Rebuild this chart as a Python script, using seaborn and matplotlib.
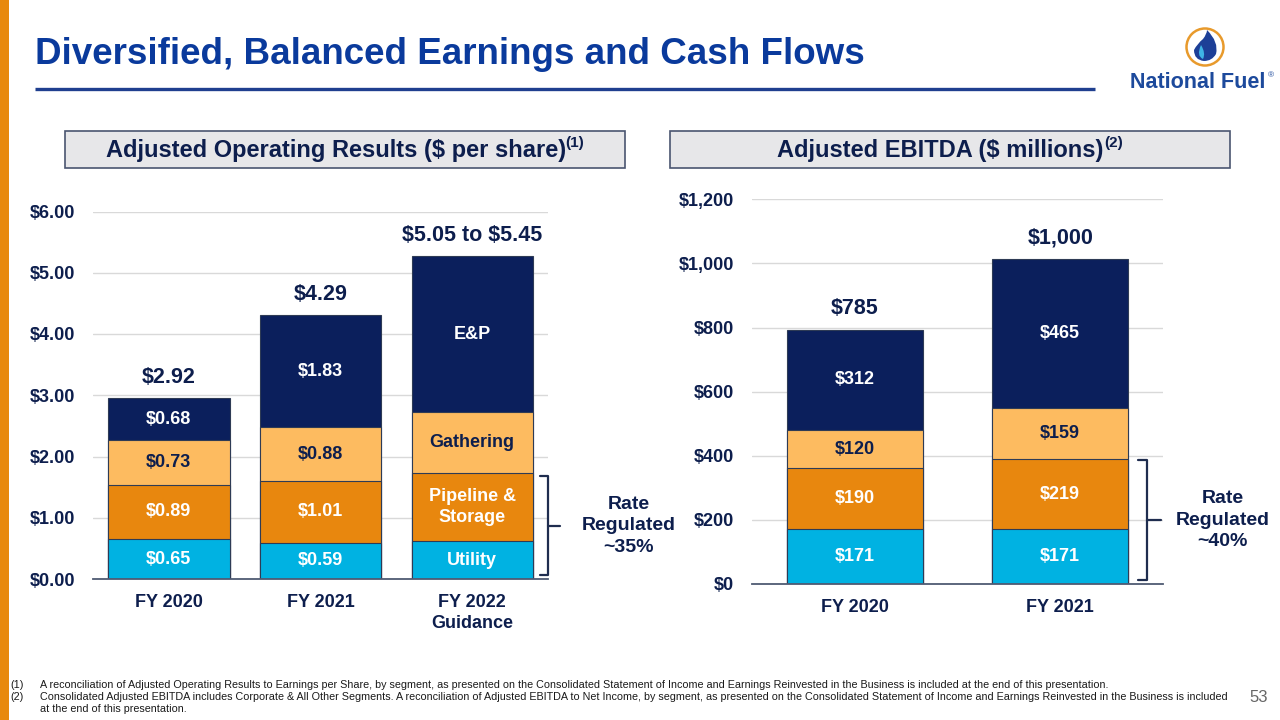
import numpy as np
import matplotlib
matplotlib.use("Agg")
import matplotlib.pyplot as plt
from matplotlib.patches import Rectangle, Circle, PathPatch
from matplotlib.path import Path
from matplotlib.ticker import FuncFormatter
from matplotlib import font_manager
import seaborn as sns

# ---- data -------------------------------------------------------------
eps_years = ["FY 2020", "FY 2021", "FY 2022\nGuidance"]
eps_utility = [0.65, 0.59, 0.62]
eps_pipeline = [0.89, 1.01, 1.11]
eps_gathering = [0.73, 0.88, 0.99]
eps_ep = [0.68, 1.83, 2.55]
eps_utility_lbl = ["$0.65", "$0.59", "Utility"]
eps_pipeline_lbl = ["$0.89", "$1.01", "Pipeline &\nStorage"]
eps_gathering_lbl = ["$0.73", "$0.88", "Gathering"]
eps_ep_lbl = ["$0.68", "$1.83", "E&P"]
eps_totals = ["$2.92", "$4.29", "$5.05 to $5.45"]
eps_yticks = [0, 1, 2, 3, 4, 5, 6]

ebitda_years = ["FY 2020", "FY 2021"]
ebitda_utility = [171, 171]
ebitda_pipeline = [190, 219]
ebitda_gathering = [120, 159]
ebitda_ep = [312, 465]
ebitda_totals = ["$785", "$1,000"]
ebitda_yticks = [0, 200, 400, 600, 800, 1000, 1200]

title = "Diversified, Balanced Earnings and Cash Flows"
footnotes = [
    ("(1)", "A reconciliation of Adjusted Operating Results to Earnings per Share, by segment, as presented on the Consolidated Statement of Income and Earnings Reinvested in the Business is included at the end of this presentation."),
    ("(2)", "Consolidated Adjusted EBITDA includes Corporate & All Other Segments. A reconciliation of Adjusted EBITDA to Net Income, by segment, as presented on the Consolidated Statement of Income and Earnings Reinvested in the Business is included"),
    ("", "at the end of this presentation."),
]

# ---- style ------------------------------------------------------------
sns.set_theme(style="white")
plt.rcParams["font.family"] = ["Liberation Sans", "DejaVu Sans"]

NAVY_TXT = "#0D1E4D"
C_UTIL = "#00B2E2"
C_PIPE = "#E8870E"
C_GATH = "#FDBB60"
C_EP = "#0B1F5C"
EDGE = "#2E3B55"
TITLE_BLUE = "#0A3A9C"


def esc(s):
    return s.replace("$", r"\$")


fig = plt.figure(figsize=(12.8, 7.2), dpi=100)
fig.patch.set_facecolor("white")

# background axes in pixel units for the slide decorations
bg = fig.add_axes([0, 0, 1, 1], zorder=0)
bg.set_xlim(0, 1280)
bg.set_ylim(720, 0)
bg.axis("off")

bg.add_patch(Rectangle((0, 0), 9, 720, color="#E8890C", lw=0))
bg.text(35, 64, title, fontsize=26.5, fontweight="bold", color=TITLE_BLUE,
        va="baseline", ha="left")
bg.plot([35, 1095], [89, 89], color="#1F3F8F", lw=2.4, solid_capstyle="butt")

# logo
bg.add_patch(Circle((1205, 47), 18.5, facecolor="white", edgecolor="#E89A2C", lw=1.8))
flame = Path([(1207, 30), (1219, 42), (1216, 54), (1212, 61), (1204, 61),
              (1194, 60), (1194, 50), (1197, 44), (1203, 39), (1207, 34), (1207, 30)],
             [Path.MOVETO, Path.CURVE3, Path.CURVE3, Path.CURVE3, Path.CURVE3,
              Path.CURVE3, Path.CURVE3, Path.CURVE3, Path.CURVE3, Path.CURVE3,
              Path.CURVE3])
bg.add_patch(PathPatch(flame, facecolor="#1D3F97", edgecolor="none"))
inner = Path([(1201, 45), (1206, 53), (1203, 59), (1196, 56), (1201, 45)],
             [Path.MOVETO, Path.CURVE3, Path.CURVE3, Path.CURVE3, Path.CURVE3])
bg.add_patch(PathPatch(inner, facecolor="#3FB4E5", edgecolor="none"))
bg.text(1198, 82, "National Fuel", fontsize=15.5, fontweight="bold",
        color="#1D4A9C", ha="center", va="center")
bg.text(1268, 76, "®", fontsize=6, color="#1D4A9C", ha="left", va="center")

# header boxes
renderer = fig.canvas.get_renderer()


def header(x0, x1, main, sup):
    bg.add_patch(Rectangle((x0, 131), x1 - x0, 37, facecolor="#E7E7E9",
                           edgecolor="#4A5570", lw=1.2))
    t = bg.text(0, 151, esc(main), fontsize=17, fontweight="bold",
                color=NAVY_TXT, ha="left", va="center")
    s = bg.text(0, 143, sup, fontsize=11, fontweight="bold",
                color=NAVY_TXT, ha="left", va="center")
    w1 = t.get_window_extent(renderer).width
    w2 = s.get_window_extent(renderer).width
    start = (x0 + x1) / 2 - (w1 + w2) / 2
    t.set_x(start)
    s.set_x(start + w1)


header(65, 625, "Adjusted Operating Results ($ per share)", "(1)")
header(670, 1230, "Adjusted EBITDA ($ millions)", "(2)")

# footnotes, fitted to the slide width
names = {f.name for f in font_manager.fontManager.ttflist}
fn_family = ["Liberation Sans Narrow", "Liberation Sans"] if "Liberation Sans Narrow" in names else ["Liberation Sans"]
probe = bg.text(40, 685, footnotes[1][1], fontsize=10, family=fn_family)
fn_size = 10 * 1178 / probe.get_window_extent(renderer).width
probe.remove()
for (num, txt), y in zip(footnotes, [685, 697, 709]):
    bg.text(10, y, num, fontsize=fn_size, family=fn_family, color="#1A1A1A",
            ha="left", va="center")
    bg.text(40, y, txt, fontsize=fn_size, family=fn_family, color="#1A1A1A",
            ha="left", va="center")
bg.text(1268, 697, "53", fontsize=12, family=fn_family, color="#666666",
        ha="right", va="center")


# ---- charts -----------------------------------------------------------
def stacked(ax, years, segs, labels, totals, width, ymax, yticks, fmt):
    segs = np.array(segs, dtype=float)
    cum = np.cumsum(segs, axis=0)
    colors = [C_UTIL, C_PIPE, C_GATH, C_EP]
    txt_colors = ["white", "white", NAVY_TXT, "white"]
    for i in reversed(range(len(segs))):
        sns.barplot(x=years, y=cum[i], color=colors[i], width=width,
                    saturation=1, errorbar=None, edgecolor=EDGE, linewidth=0.8,
                    ax=ax, zorder=2)
    for i in range(len(segs)):
        for j in range(len(years)):
            ax.text(j, cum[i][j] - segs[i][j] / 2, esc(labels[i][j]),
                    ha="center", va="center", fontsize=13, fontweight="bold",
                    color=txt_colors[i], linespacing=1.3, zorder=3)
    for j, tot in enumerate(totals):
        ax.annotate(esc(tot), (j, cum[-1][j]), xytext=(0, 15),
                    textcoords="offset points", ha="center", va="center",
                    fontsize=15.5, fontweight="bold", color=NAVY_TXT,
                    annotation_clip=False)
    ax.set_ylim(0, ymax)
    ax.set_xlim(-0.5, len(years) - 0.5)
    ax.set_yticks(yticks)
    ax.yaxis.set_major_formatter(FuncFormatter(lambda v, p: esc(fmt(v))))
    ax.set_xlabel("")
    ax.set_ylabel("")
    ax.set_facecolor("none")
    ax.yaxis.grid(True, color="#D9D9D9", lw=1)
    ax.set_axisbelow(True)
    sns.despine(ax=ax, left=True)
    ax.spines["bottom"].set_color("#4F5B73")
    ax.spines["bottom"].set_linewidth(1.3)
    ax.tick_params(length=0, labelsize=13, labelcolor=NAVY_TXT)
    ax.tick_params(axis="y", pad=13)
    ax.tick_params(axis="x", pad=11)
    for lab in ax.get_xticklabels() + ax.get_yticklabels():
        lab.set_fontweight("bold")
        lab.set_linespacing(1.3)
    return cum


def bracket(ax, x_hook, x_line, x_tick, y0, y1, text, x_text):
    ym = (y0 + y1) / 2
    ax.plot([x_hook, x_line, x_line, x_hook], [y1, y1, y0, y0],
            color="#1F2D4F", lw=1.6, clip_on=False, solid_joinstyle="round")
    ax.plot([x_line, x_tick], [ym, ym], color="#1F2D4F", lw=1.6, clip_on=False)
    ax.text(x_text, ym, text, ha="center", va="center", fontsize=14,
            fontweight="bold", color=NAVY_TXT, linespacing=1.35, clip_on=False)


ax1 = fig.add_axes([93 / 1280, 1 - 579 / 720, 455 / 1280, 367.5 / 720], zorder=1)
cum1 = stacked(ax1, eps_years,
               [eps_utility, eps_pipeline, eps_gathering, eps_ep],
               [eps_utility_lbl, eps_pipeline_lbl, eps_gathering_lbl, eps_ep_lbl],
               eps_totals, 0.8, 6, eps_yticks, lambda v: f"${v:.2f}")
bracket(ax1, 2.45, 2.5, 2.58, 0.06, cum1[1][-1] - 0.05,
        "Rate\nRegulated\n~35%", 3.03)

ax2 = fig.add_axes([752 / 1280, 1 - 584 / 720, 411 / 1280, 384.7 / 720], zorder=1)
cum2 = stacked(ax2, ebitda_years,
               [ebitda_utility, ebitda_pipeline, ebitda_gathering, ebitda_ep],
               [[f"${v}" for v in ebitda_utility], [f"${v}" for v in ebitda_pipeline],
                [f"${v}" for v in ebitda_gathering], [f"${v}" for v in ebitda_ep]],
               ebitda_totals, 0.66, 1200, ebitda_yticks, lambda v: f"${v:,.0f}")
bracket(ax2, 1.38, 1.42, 1.49, 12, cum2[1][-1] - 4,
        "Rate\nRegulated\n~40%", 1.79)

fig.savefig("out.png", dpi=100)
